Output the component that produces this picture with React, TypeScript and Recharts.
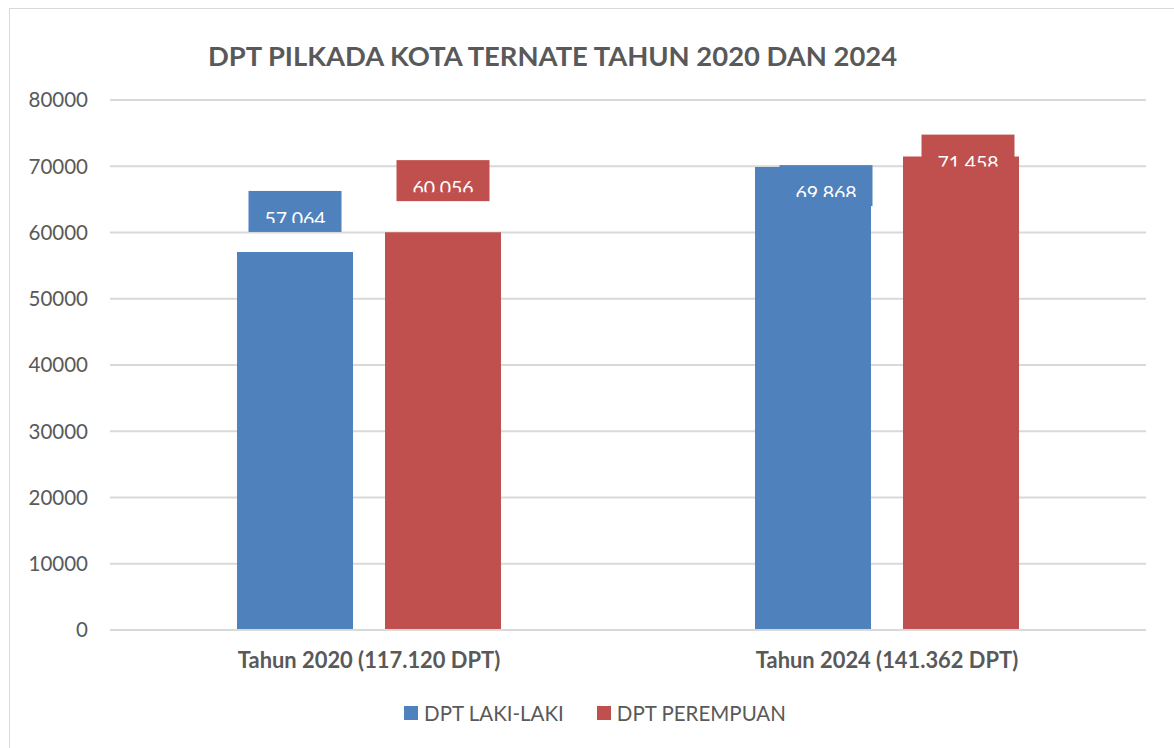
import { BarChart, Bar, XAxis, YAxis, CartesianGrid, Legend } from 'recharts'

const categories = ['Tahun 2020 (117.120 DPT)', 'Tahun 2024 (141.362 DPT)']
const lakiLaki = [57064, 69868]
const perempuan = [60056, 71458]
const yTicks = [0, 10000, 20000, 30000, 40000, 50000, 60000, 70000, 80000]

const BLUE = '#4F81BD'
const RED = '#C0504D'
const FONT = 'Lato, "Open Sans", sans-serif'

const chartData = categories.map((name, i) => ({
  name,
  laki: lakiLaki[i],
  perempuan: perempuan[i],
}))

// label boxes in the source sit at odd spots, so each gets a lift / shift
const labelLift: Record<string, number[]> = { laki: [61, 2], perempuan: [72, 22] }
const labelShift: Record<string, number[]> = { laki: [0, 13], perempuan: [0, 7] }

const fmt = (v: number) => v.toLocaleString('de-DE')

function makeLabel(key: string, color: string) {
  return (props: any) => {
    const { x, y, width, value, index } = props
    const bw = 93
    const bh = 41
    const cx = x + width / 2 + labelShift[key][index]
    const top = y - labelLift[key][index]
    const id = `clip-${key}-${index}`
    return (
      <g>
        <defs>
          <clipPath id={id}>
            <rect x={cx - bw / 2} y={top} width={bw} height={32} />
          </clipPath>
        </defs>
        <rect x={cx - bw / 2} y={top} width={bw} height={bh} fill={color} />
        <text
          x={cx}
          y={top + 35}
          textAnchor="middle"
          fill="#fff"
          fontSize={19.5}
          fontFamily={FONT}
          clipPath={`url(#${id})`}
        >
          {fmt(value)}
        </text>
      </g>
    )
  }
}

function renderLegend() {
  const items = [
    { label: 'DPT LAKI-LAKI', color: BLUE },
    { label: 'DPT PEREMPUAN', color: RED },
  ]
  return (
    <div style={{ display: 'flex', justifyContent: 'center', gap: 33, fontFamily: FONT }}>
      {items.map((it) => (
        <div key={it.label} style={{ display: 'flex', alignItems: 'center' }}>
          <span style={{ width: 14, height: 14, background: it.color, display: 'inline-block', marginRight: 6 }} />
          <span style={{ fontSize: 20.5, color: '#595959' }}>{it.label}</span>
        </div>
      ))}
    </div>
  )
}

export default function App() {
  return (
    <div style={{ position: 'fixed', left: 0, top: 0, width: 1174, height: 748, background: '#fff', overflow: 'hidden' }}>
      <div
        style={{
          position: 'absolute',
          left: 9,
          top: 8,
          width: 1180,
          height: 760,
          border: '1px solid #d9d9d9',
        }}
      />
      <div
        style={{
          position: 'absolute',
          top: 39,
          left: 0,
          width: 1105,
          textAlign: 'center',
          fontFamily: FONT,
          fontWeight: 700,
          fontSize: 27.4,
          color: '#595959',
        }}
      >
        DPT PILKADA KOTA TERNATE TAHUN 2020 DAN 2024
      </div>
      <BarChart
        width={1174}
        height={748}
        data={chartData}
        margin={{ top: 100, right: 28, bottom: 30, left: 0 }}
        barSize={116}
        barGap={32}
        style={{ position: 'absolute', left: 0, top: 0 }}
      >
        <CartesianGrid vertical={false} stroke="#d9d9d9" strokeWidth={2} />
        <XAxis
          dataKey="name"
          height={88}
          axisLine={{ stroke: '#d9d9d9', strokeWidth: 2 }}
          tickLine={false}
          tickSize={0}
          tickMargin={22}
          tick={{ fontSize: 21.9, fontWeight: 700, fill: '#595959', fontFamily: FONT }}
        />
        <YAxis
          width={110}
          domain={[0, 80000]}
          ticks={yTicks}
          axisLine={false}
          tickLine={false}
          tickSize={0}
          tickMargin={22}
          tick={{ fontSize: 20.5, fill: '#595959', fontFamily: FONT }}
        />
        <Legend
          verticalAlign="middle"
          align="center"
          content={renderLegend}
          wrapperStyle={{ top: 701, left: 0, width: 1190 }}
        />
        <Bar dataKey="laki" name="DPT LAKI-LAKI" fill={BLUE} isAnimationActive={false} label={makeLabel('laki', BLUE)} />
        <Bar
          dataKey="perempuan"
          name="DPT PEREMPUAN"
          fill={RED}
          isAnimationActive={false}
          label={makeLabel('perempuan', RED)}
        />
      </BarChart>
    </div>
  )
}
